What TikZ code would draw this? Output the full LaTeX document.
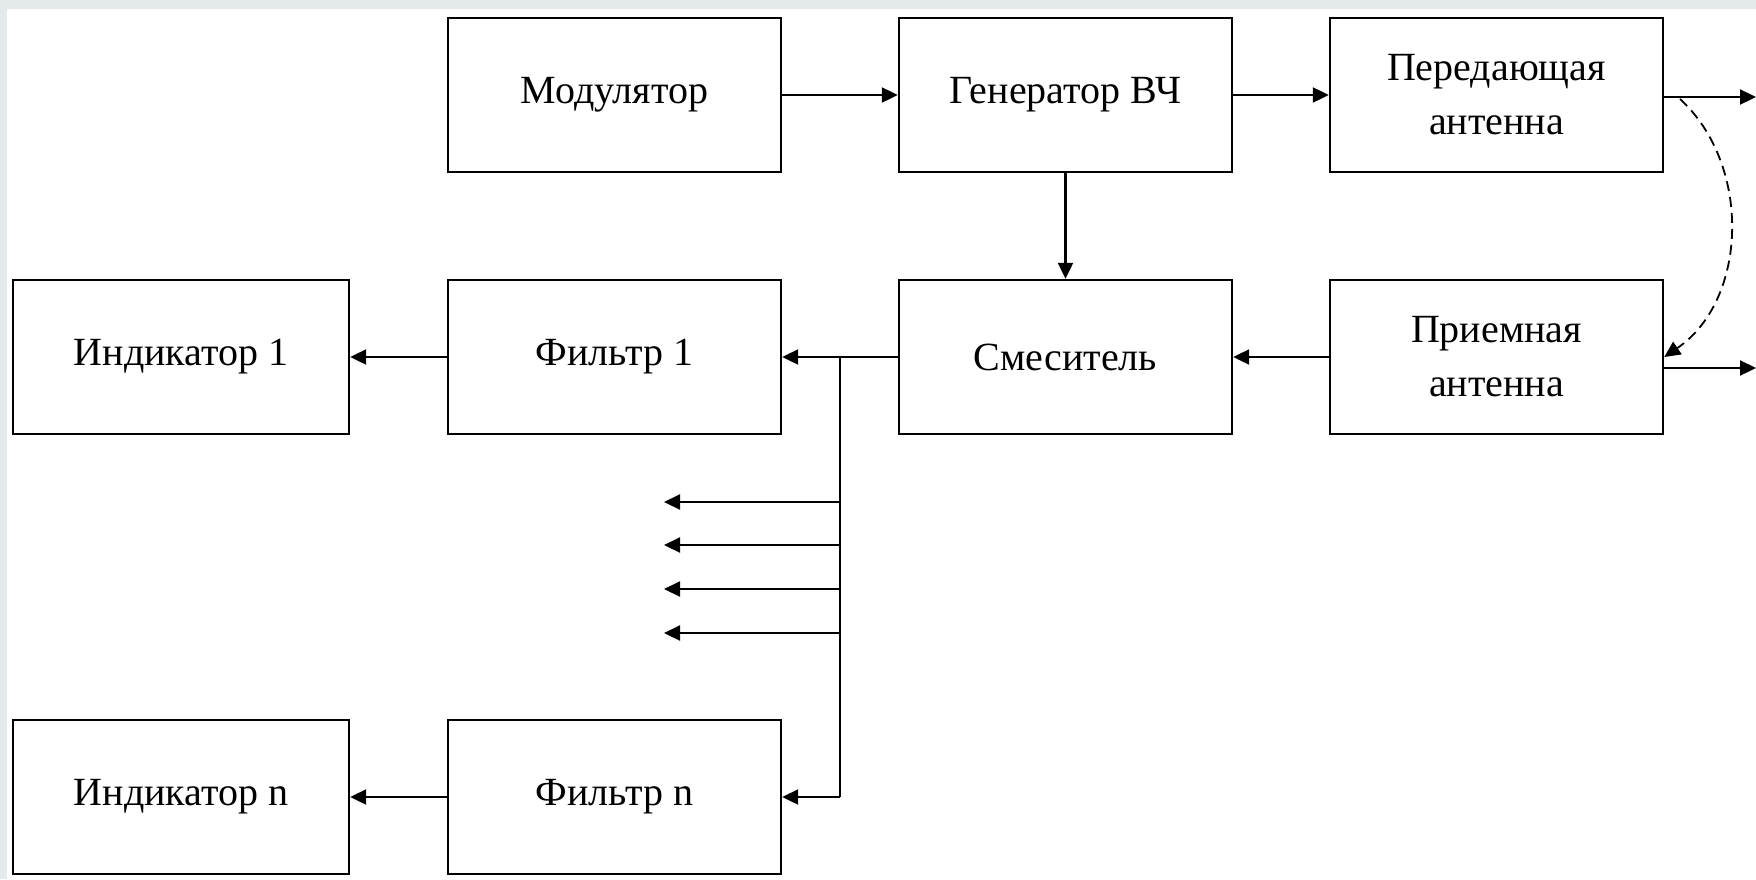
\documentclass[tikz,border=0pt]{standalone}
\usepackage{fontspec}
\setmainfont{Liberation Serif}
\usetikzlibrary{arrows.meta}
\definecolor{bgedge}{HTML}{E4E9EC}
\tikzset{
  blk/.style={draw=black, line width=1.2pt, fill=white, minimum width=166.5pt, minimum height=77pt, inner sep=0pt, align=center, font=\fontsize{20}{27}\selectfont},
  conn/.style={line width=1.1pt, -{Triangle[length=8pt,width=7.5pt]}},
  plain/.style={line width=1.1pt},
  wave/.style={line width=0.9pt, dashed, dash pattern=on 5pt off 3pt, -{Triangle[length=8pt,width=7.5pt]}}
}
\begin{document}
\begin{tikzpicture}[x=0.5pt,y=-0.5pt]
\useasboundingbox (0,0) rectangle (1756,879);
\fill[bgedge] (0,0) rectangle (1756,879);
\fill[white] (7,9) rectangle (1756,879);
% boxes
\node[blk] (mod) at (614.5,95) {Модулятор};
\node[blk] (gen) at (1065.5,95) {Генератор ВЧ};
\node[blk] (tx) at (1496.5,95) {Передающая\\антенна};
\node[blk, minimum width=168pt] (ind1) at (181,357) {Индикатор 1};
\node[blk] (f1) at (614.5,357) {Фильтр 1};
\node[blk] (mix) at (1065.5,357) {Смеситель};
\node[blk] (rx) at (1496.5,357) {Приемная\\антенна};
\node[blk, minimum width=168pt] (indn) at (181,797) {Индикатор n};
\node[blk] (fn) at (614.5,797) {Фильтр n};
% free ends
\coordinate (txout) at (1756,97);
\coordinate (rxout) at (1756,368);
\coordinate (bustop) at (840,357);
\coordinate (busbot) at (840,797);
\coordinate (s1a) at (840,502); \coordinate (s1b) at (664,502);
\coordinate (s2a) at (840,545); \coordinate (s2b) at (664,545);
\coordinate (s3a) at (840,589); \coordinate (s3b) at (664,589);
\coordinate (s4a) at (840,633); \coordinate (s4b) at (664,633);
\coordinate (wstart) at (1680,99);
% connectors
\draw[conn] (mod.east) -- (gen.west);
\draw[conn] (gen.east) -- (tx.west);
\draw[conn] (tx.east |- txout) -- (txout);
\draw[conn] (gen.south) -- (mix.north);
\draw[conn] (rx.west) -- (mix.east);
\draw[conn] (rx.east |- rxout) -- (rxout);
\draw[conn] (mix.west) -- (f1.east);
\draw[conn] (f1.west) -- (ind1.east);
\draw[plain] (bustop) -- (busbot);
\draw[conn] (busbot) -- (fn.east);
\draw[conn] (fn.west) -- (indn.east);
\draw[conn] (s1a) -- (s1b);
\draw[conn] (s2a) -- (s2b);
\draw[conn] (s3a) -- (s3b);
\draw[conn] (s4a) -- (s4b);
\draw[wave] (wstart) .. controls (1752,165) and (1748,300) .. (rx.east);
\end{tikzpicture}
\end{document}
